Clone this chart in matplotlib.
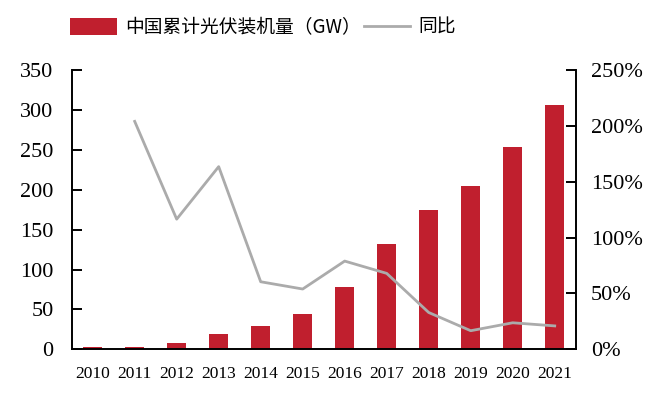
import matplotlib
matplotlib.use("Agg")
import matplotlib.pyplot as plt
from matplotlib.patches import Patch
from matplotlib.lines import Line2D
from matplotlib.ticker import FuncFormatter

years = ["2010", "2011", "2012", "2013", "2014", "2015", "2016", "2017", "2018", "2019", "2020", "2021"]
capacity_gw = [2.5, 3.5, 8.5, 19, 29.5, 44, 78.5, 131.5, 174.5, 204.5, 253, 306]
yoy_years = ["2011", "2012", "2013", "2014", "2015", "2016", "2017", "2018", "2019", "2020", "2021"]
yoy_pct = [204, 116.5, 163.5, 60.5, 54, 79, 68, 33, 16.7, 23.8, 21]
left_ticks = [0, 50, 100, 150, 200, 250, 300, 350]
right_ticks = [0, 50, 100, 150, 200, 250]

bar_color = "#C01F2E"
line_color = "#ABABAB"
serif = ["Liberation Serif", "DejaVu Serif"]
cjk = ["Noto Sans CJK SC", "DejaVu Sans"]

fig = plt.figure(figsize=(6.6, 3.93), dpi=100)
ax = fig.add_axes([0.1086, 0.111, 0.7637, 0.711])
ax2 = ax.twinx()

x = list(range(len(years)))
ax.bar(x, capacity_gw, width=0.44, color=bar_color, zorder=2)
xl = [years.index(y) for y in yoy_years]
ax2.plot(xl, yoy_pct, color=line_color, lw=2.0, zorder=3)

ax.set_xlim(-0.5, len(years) - 0.5)
ax.set_ylim(0, 350)
ax2.set_ylim(0, 250)
ax.set_yticks(left_ticks)
ax2.set_yticks(right_ticks)
ax2.yaxis.set_major_formatter(FuncFormatter(lambda v, p: f"{int(v)}%"))
ax.set_xticks(x)
ax.set_xticklabels(years)

for a in (ax, ax2):
    a.spines["top"].set_visible(False)
    for s in ("left", "right", "bottom"):
        a.spines[s].set_linewidth(1.4)
ax.spines["right"].set_visible(False)
ax2.spines["left"].set_visible(False)
ax2.spines["bottom"].set_visible(False)

ax.tick_params(axis="y", direction="in", length=7, width=1.4, labelsize=16, pad=13)
ax2.tick_params(axis="y", direction="in", length=7, width=1.4, labelsize=16, pad=11)
ax.tick_params(axis="x", length=0, labelsize=12.5, pad=12)
for lab in ax.get_yticklabels() + ax.get_xticklabels() + ax2.get_yticklabels():
    lab.set_fontfamily(serif)

handles = [Patch(facecolor=bar_color, edgecolor="none"),
           Line2D([0], [0], color=line_color, lw=2.0)]
labels = ["中国累计光伏装机量（GW）", "同比"]
leg = fig.legend(handles, labels, loc="upper left", bbox_to_anchor=(0.08, 1.0),
                 ncol=2, frameon=False, prop={"family": cjk, "size": 13.5},
                 handlelength=2.5, handleheight=0.95, columnspacing=0.15, handletextpad=0.45)

fig.savefig("out.png", dpi=100)
